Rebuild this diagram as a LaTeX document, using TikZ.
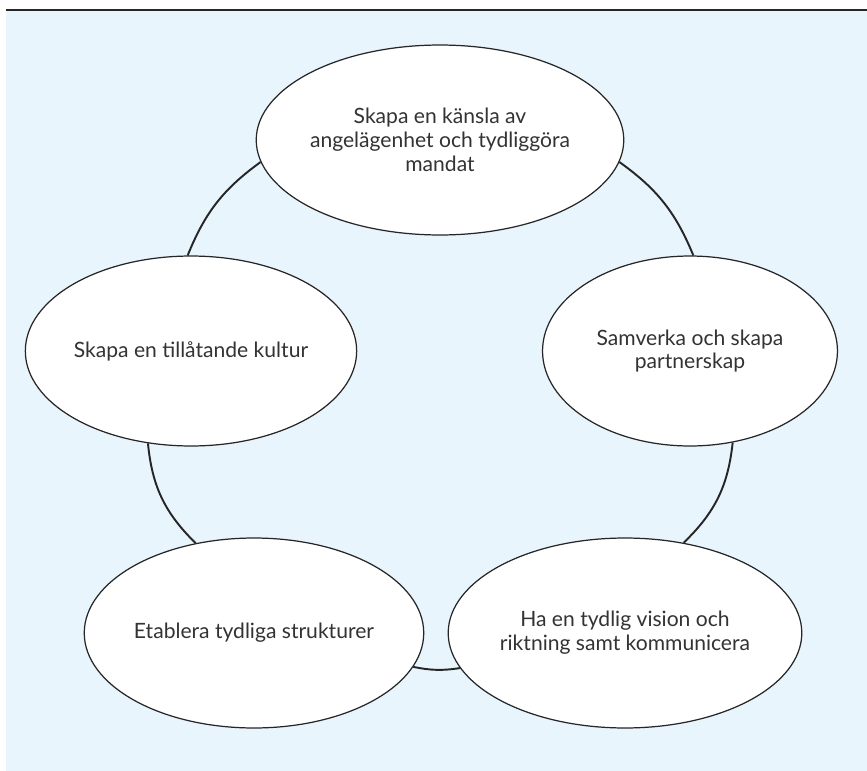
\documentclass[tikz,border=0pt]{standalone}
\usepackage{fontspec}
\setmainfont{Lato}
\usetikzlibrary{shapes.geometric}

\definecolor{paleblue}{HTML}{E8F5FD}
\definecolor{inkgray}{HTML}{333333}

\tikzset{
  goal/.style={shape=ellipse, draw=black!85, line width=0.7pt, fill=white,
    minimum width=5.9cm, minimum height=3.8cm, inner sep=0pt, align=center,
    text=inkgray, font=\fontsize{12}{13.6}\selectfont},
  link/.style={line width=1.1pt, draw=black!85}
}

\begin{document}
\begin{tikzpicture}[x=0.02cm, y=-0.02cm]
    \useasboundingbox (0,0) rectangle (867,771);
    % background and top rule
    \fill[paleblue] (6,11) rectangle (867,771);
    \draw[line width=1.4pt, black!85] (6,10) -- (867,10);
    % the five goals
    \node[goal] (kansla) at (440,140) {Skapa en känsla av\\angelägenhet och tydliggöra\\mandat};
    \node[goal] (samverka) at (690,351) {Samverka och skapa\\partnerskap};
    \node[goal] (kultur) at (191,351) {Skapa en tillåtande kultur};
    \node[goal] (struktur) at (254,633) {Etablera tydliga strukturer};
    \node[goal] (vision) at (625,633) {Ha en tydlig vision och\\riktning samt kommunicera};
    % the cycle
    \path (kansla.187) edge[link, bend right=16] (kultur.92);
    \path (kultur.245) edge[link, bend right=20] (struktur.123);
    \path (struktur.348) edge[link, bend right=10] (vision.192);
    \path (vision.57) edge[link, bend right=20] (samverka.295);
    \path (samverka.88) edge[link, bend right=16] (kansla.353);
\end{tikzpicture}
\end{document}
